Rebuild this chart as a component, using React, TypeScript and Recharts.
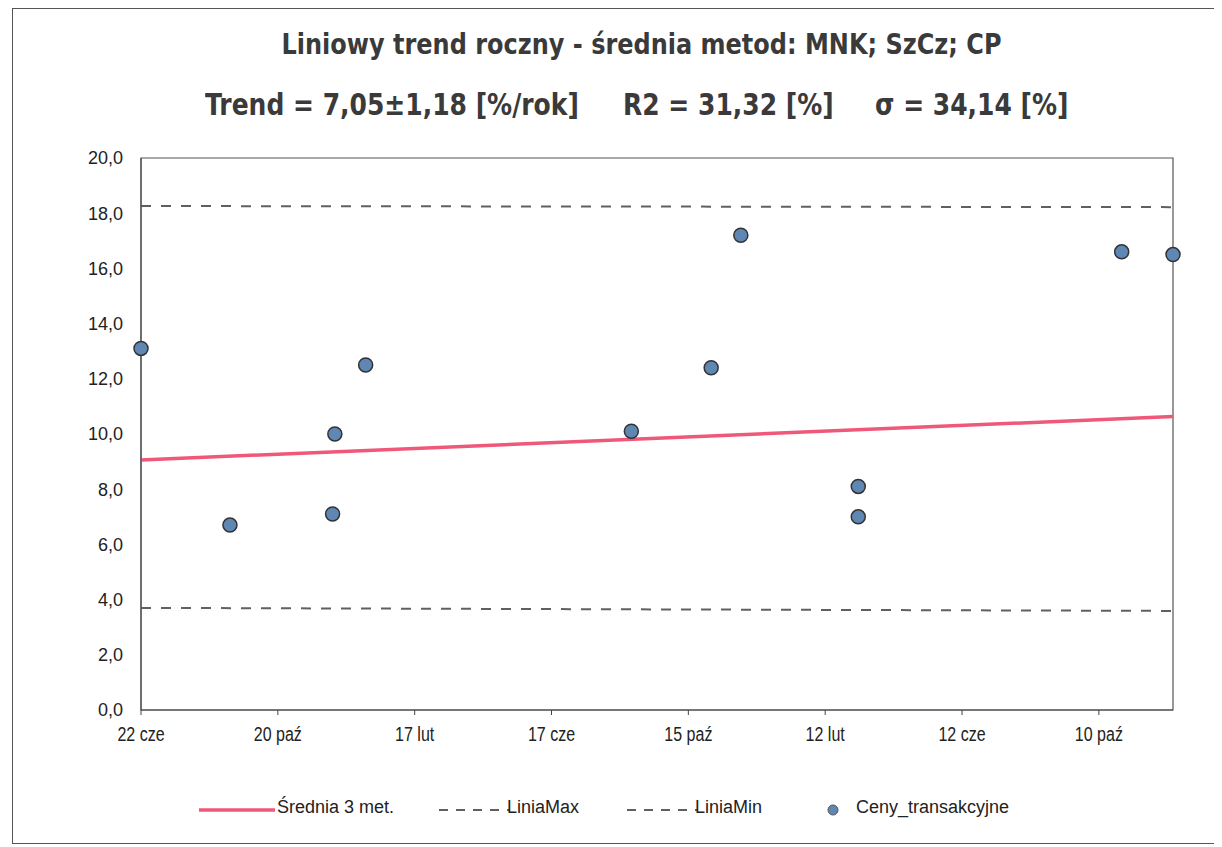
import { ComposedChart, Line, Scatter, XAxis, YAxis, ReferenceArea } from 'recharts';

// dni od pierwszej transakcji (22 cze)
const dayOffsets = [0, 78, 170, 168, 197, 430, 500, 526, 629, 629, 860, 905];
const prices = [13.1, 6.7, 10.0, 7.1, 12.5, 10.1, 12.4, 17.2, 8.1, 7.0, 16.6, 16.5];

const lineDays = [0, 905];
const avgTrend = [9.06, 10.63];
const liniaMax = [18.26, 18.22];
const liniaMin = [3.7, 3.59];

const xTicks = [0, 120, 240, 360, 480, 600, 720, 840];
const xTickLabels = ['22 cze', '20 paź', '17 lut', '17 cze', '15 paź', '12 lut', '12 cze', '10 paź'];
const yTicks = [0, 2, 4, 6, 8, 10, 12, 14, 16, 18, 20];

const legendItems = ['Średnia 3 met.', 'LiniaMax', 'LiniaMin', 'Ceny_transakcyjne'];

const pointData = dayOffsets.map((d, i) => ({ day: d, price: prices[i] }));
const lineData = lineDays.map((d, i) => ({ day: d, avg: avgTrend[i], max: liniaMax[i], min: liniaMin[i] }));

const PINK = '#f0587a';
const DASH = '#606060';
const DOT = '#5f87b3';
const HEAD_FONT = '"DejaVu Sans", Verdana, sans-serif';

const Dot = (props: any) => {
    const { cx, cy } = props;
    return <circle cx={cx} cy={cy} r={7} fill={DOT} stroke="#333" strokeWidth={1.5} />;
};

// waskie etykiety dat jak w oryginale
const DateTick = (props: any) => {
    const { x, y, payload } = props;
    return (
        <g transform={`translate(${x},${y})`}>
            <text transform="scale(0.8,1)" textAnchor="middle" dy="0.71em" fill="#222" fontSize={20} fontFamily='"Liberation Sans", Arial, sans-serif'>
                {xTickLabels[xTicks.indexOf(payload.value)]}
            </text>
        </g>
    );
};

export default function App() {
    const stretch = { transform: 'scaleY(1.2)', transformOrigin: '50% 50%' };
    return (
        <div style={{ position: 'relative', width: 1204, height: 834, border: '1px solid #555', marginLeft: 4, background: '#fff', fontFamily: 'Arial, sans-serif' }}>
            <div style={{ position: 'absolute', left: 0, top: 20, width: 1257, textAlign: 'center', fontFamily: HEAD_FONT, fontWeight: 'bold', fontSize: 24, lineHeight: '30px', color: '#3a3a3a', ...stretch }}>
                Liniowy trend roczny - średnia metod: MNK; SzCz; CP
            </div>
            <div style={{ position: 'absolute', top: 80, left: 0, width: 1204, height: 32, fontFamily: HEAD_FONT, fontWeight: 'bold', fontSize: 25, lineHeight: '32px', color: '#3a3a3a', ...stretch }}>
                <span style={{ position: 'absolute', left: 192 }}>Trend = 7,05±1,18 [%/rok]</span>
                <span style={{ position: 'absolute', left: 610 }}>R2 = 31,32 [%]</span>
                <span style={{ position: 'absolute', left: 862 }}>σ = 34,14 [%]</span>
            </div>

            <div style={{ position: 'absolute', left: 0, top: 0 }}>
                <ComposedChart width={1200} height={800} margin={{ top: 149, right: 40, left: 68, bottom: 69 }}>
                    <XAxis
                        dataKey="day"
                        type="number"
                        domain={[0, 905]}
                        ticks={xTicks}
                        height={30}
                        tickSize={5}
                        tickMargin={12}
                        stroke="#444"
                        tick={<DateTick />}
                        allowDuplicatedCategory={false}
                    />
                    <YAxis
                        type="number"
                        domain={[0, 20]}
                        ticks={yTicks}
                        width={60}
                        tickSize={0}
                        tickMargin={18}
                        stroke="#444"
                        tickFormatter={(v: number) => v.toFixed(1).replace('.', ',')}
                        tick={{ fill: '#222', fontSize: 18, fontFamily: '"Liberation Sans", Arial, sans-serif' }}
                    />
                    <ReferenceArea x1={0} x2={905} y1={0} y2={20} fill="none" stroke="#555" strokeWidth={1.2} ifOverflow="extendDomain" />
                    <Line data={lineData} dataKey="max" stroke={DASH} strokeWidth={2} strokeDasharray="10 10" dot={false} isAnimationActive={false} />
                    <Line data={lineData} dataKey="min" stroke={DASH} strokeWidth={2} strokeDasharray="10 10" dot={false} isAnimationActive={false} />
                    <Line data={lineData} dataKey="avg" stroke={PINK} strokeWidth={3.5} dot={false} isAnimationActive={false} />
                    <Scatter data={pointData} dataKey="price" shape={<Dot />} isAnimationActive={false} />
                </ComposedChart>
            </div>

            <div style={{ position: 'absolute', top: 788, left: 0, width: 1204, height: 30, fontFamily: '"Liberation Sans", Arial, sans-serif', fontSize: 18, color: '#222' }}>
                <svg style={{ position: 'absolute', left: 186, top: 8 }} width={76} height={10}><line x1={0} y1={5} x2={76} y2={5} stroke={PINK} strokeWidth={3.5} /></svg>
                <span style={{ position: 'absolute', left: 264, top: 0 }}>{legendItems[0]}</span>
                <svg style={{ position: 'absolute', left: 426, top: 8 }} width={70} height={10}><line x1={0} y1={5} x2={70} y2={5} stroke={DASH} strokeWidth={2} strokeDasharray="9 8" /></svg>
                <span style={{ position: 'absolute', left: 494, top: 0 }}>{legendItems[1]}</span>
                <svg style={{ position: 'absolute', left: 614, top: 8 }} width={70} height={10}><line x1={0} y1={5} x2={70} y2={5} stroke={DASH} strokeWidth={2} strokeDasharray="9 8" /></svg>
                <span style={{ position: 'absolute', left: 682, top: 0 }}>{legendItems[2]}</span>
                <svg style={{ position: 'absolute', left: 812, top: 5 }} width={16} height={16}><circle cx={8} cy={8} r={5} fill={DOT} stroke="#555" strokeWidth={1} /></svg>
                <span style={{ position: 'absolute', left: 843, top: 0 }}>{legendItems[3]}</span>
            </div>
        </div>
    );
}
